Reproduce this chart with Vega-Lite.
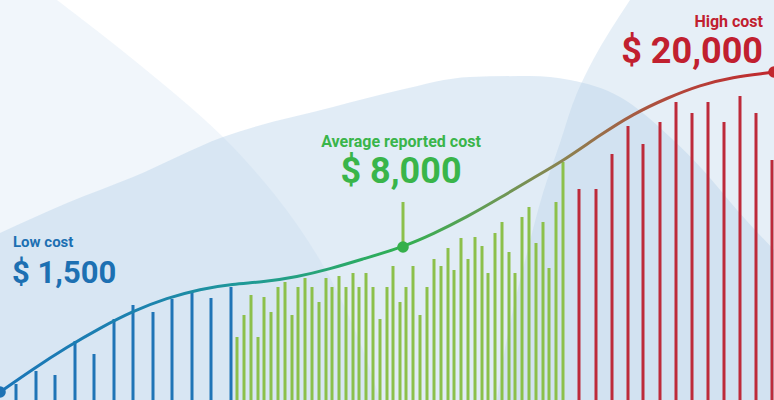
{
  "$schema": "https://vega.github.io/schema/vega-lite/v6.json",
  "width": 774,
  "height": 400,
  "autosize": {"type": "none"},
  "padding": 0,
  "background": "#ffffff",
  "config": {"view": {"stroke": null}},
  "datasets": {
    "hill": [
      {"x": 0, "v": 167}, {"x": 67, "v": 197}, {"x": 133, "v": 223}, {"x": 223, "v": 263},
      {"x": 333, "v": 293}, {"x": 400, "v": 310}, {"x": 470, "v": 323}, {"x": 530, "v": 324},
      {"x": 570, "v": 320}, {"x": 620, "v": 303}, {"x": 670, "v": 263}, {"x": 703, "v": 230},
      {"x": 737, "v": 190}, {"x": 774, "v": 150}
    ],
    "band": [
      {"x": 57, "v": 400}, {"x": 140, "v": 335}, {"x": 223, "v": 263}, {"x": 275, "v": 205},
      {"x": 320, "v": 140}, {"x": 355, "v": 70}, {"x": 380, "v": 0}
    ],
    "rightShape": [
      {"x": 630, "v": 400}, {"x": 593, "v": 340}, {"x": 577, "v": 307}, {"x": 560, "v": 257},
      {"x": 543, "v": 207}, {"x": 527, "v": 147}, {"x": 513, "v": 90}, {"x": 503, "v": 40},
      {"x": 497, "v": 0}
    ],
    "bars": [
      {"x": 16, "v": 16, "g": "low"}, {"x": 36, "v": 29, "g": "low"}, {"x": 55, "v": 25, "g": "low"},
      {"x": 75, "v": 59, "g": "low"}, {"x": 94, "v": 46, "g": "low"}, {"x": 114, "v": 81, "g": "low"},
      {"x": 133, "v": 95, "g": "low"}, {"x": 153, "v": 88, "g": "low"}, {"x": 172, "v": 101, "g": "low"},
      {"x": 192, "v": 109, "g": "low"}, {"x": 211, "v": 102, "g": "low"}, {"x": 231, "v": 113, "g": "low"},
      {"x": 237, "v": 63, "g": "avg"}, {"x": 244, "v": 85, "g": "avg"}, {"x": 251, "v": 105, "g": "avg"},
      {"x": 258, "v": 63, "g": "avg"}, {"x": 264, "v": 103, "g": "avg"}, {"x": 271, "v": 88, "g": "avg"},
      {"x": 278, "v": 113, "g": "avg"}, {"x": 285, "v": 118, "g": "avg"}, {"x": 292, "v": 85, "g": "avg"},
      {"x": 298, "v": 113, "g": "avg"}, {"x": 305, "v": 122, "g": "avg"}, {"x": 312, "v": 113, "g": "avg"},
      {"x": 319, "v": 98, "g": "avg"}, {"x": 326, "v": 122, "g": "avg"}, {"x": 332, "v": 113, "g": "avg"},
      {"x": 339, "v": 124, "g": "avg"}, {"x": 346, "v": 113, "g": "avg"}, {"x": 353, "v": 127, "g": "avg"},
      {"x": 359, "v": 113, "g": "avg"}, {"x": 366, "v": 127, "g": "avg"}, {"x": 373, "v": 113, "g": "avg"},
      {"x": 380, "v": 81, "g": "avg"}, {"x": 387, "v": 113, "g": "avg"}, {"x": 393, "v": 134, "g": "avg"},
      {"x": 400, "v": 98, "g": "avg"}, {"x": 406, "v": 113, "g": "avg"}, {"x": 413, "v": 134, "g": "avg"},
      {"x": 420, "v": 85, "g": "avg"}, {"x": 427, "v": 113, "g": "avg"}, {"x": 434, "v": 141, "g": "avg"},
      {"x": 441, "v": 134, "g": "avg"}, {"x": 448, "v": 152, "g": "avg"}, {"x": 454, "v": 130, "g": "avg"},
      {"x": 461, "v": 162, "g": "avg"}, {"x": 468, "v": 141, "g": "avg"}, {"x": 475, "v": 163, "g": "avg"},
      {"x": 482, "v": 154, "g": "avg"}, {"x": 488, "v": 127, "g": "avg"}, {"x": 495, "v": 167, "g": "avg"},
      {"x": 502, "v": 178, "g": "avg"}, {"x": 509, "v": 148, "g": "avg"}, {"x": 515, "v": 127, "g": "avg"},
      {"x": 522, "v": 183, "g": "avg"}, {"x": 529, "v": 193, "g": "avg"}, {"x": 536, "v": 157, "g": "avg"},
      {"x": 543, "v": 178, "g": "avg"}, {"x": 549, "v": 132, "g": "avg"}, {"x": 556, "v": 198, "g": "avg"},
      {"x": 563, "v": 238, "g": "avg"},
      {"x": 579, "v": 211, "g": "high"}, {"x": 596, "v": 211, "g": "high"}, {"x": 612, "v": 246, "g": "high"},
      {"x": 628, "v": 274, "g": "high"}, {"x": 643, "v": 256, "g": "high"}, {"x": 660, "v": 278, "g": "high"},
      {"x": 676, "v": 298, "g": "high"}, {"x": 692, "v": 287, "g": "high"}, {"x": 708, "v": 298, "g": "high"},
      {"x": 724, "v": 278, "g": "high"}, {"x": 740, "v": 304, "g": "high"}, {"x": 756, "v": 287, "g": "high"},
      {"x": 772, "v": 240, "g": "high"}
    ],
    "curve": [
      {"x": 0, "v": 8}, {"x": 33, "v": 31}, {"x": 67, "v": 53}, {"x": 100, "v": 72},
      {"x": 133, "v": 89}, {"x": 167, "v": 102}, {"x": 200, "v": 111}, {"x": 233, "v": 116},
      {"x": 263, "v": 118}, {"x": 297, "v": 123}, {"x": 330, "v": 131}, {"x": 363, "v": 141},
      {"x": 403, "v": 153}, {"x": 433, "v": 166}, {"x": 467, "v": 183}, {"x": 500, "v": 202},
      {"x": 533, "v": 222}, {"x": 563, "v": 239}, {"x": 600, "v": 265}, {"x": 633, "v": 286},
      {"x": 667, "v": 302}, {"x": 700, "v": 315}, {"x": 733, "v": 323}, {"x": 767, "v": 327},
      {"x": 774, "v": 328}
    ],
    "markers": [
      {"x": 0, "v": 8, "g": "low", "cost": 1500},
      {"x": 403, "v": 153, "g": "avg", "cost": 8000},
      {"x": 774, "v": 328, "g": "high", "cost": 20000}
    ]
  },
  "resolve": {"scale": {"color": "independent"}},
  "layer": [
    {
      "data": {"name": "band"},
      "mark": {"type": "area", "orient": "horizontal", "interpolate": "monotone", "color": "#b3cfe8", "opacity": 0.18},
      "encoding": {
        "y": {"field": "v", "type": "quantitative", "scale": {"domain": [0, 400], "nice": false, "zero": false}, "axis": null},
        "x": {"field": "x", "type": "quantitative", "scale": {"domain": [0, 774], "nice": false, "zero": false}, "axis": null},
        "x2": {"datum": 0}
      }
    },
    {
      "data": {"name": "hill"},
      "mark": {"type": "area", "interpolate": "monotone", "color": "#b3cfe8", "opacity": 0.39},
      "encoding": {
        "x": {"field": "x", "type": "quantitative"},
        "y": {"field": "v", "type": "quantitative"},
        "y2": {"datum": 0}
      }
    },
    {
      "data": {"name": "rightShape"},
      "mark": {"type": "area", "orient": "horizontal", "interpolate": "monotone", "color": "#b3cfe8", "opacity": 0.33},
      "encoding": {
        "y": {"field": "v", "type": "quantitative"},
        "x": {"field": "x", "type": "quantitative"},
        "x2": {"datum": 774}
      }
    },
    {
      "data": {"name": "bars"},
      "mark": {"type": "rule", "strokeWidth": 3},
      "encoding": {
        "x": {"field": "x", "type": "quantitative"},
        "y": {"field": "v", "type": "quantitative"},
        "y2": {"datum": 0},
        "color": {"field": "g", "type": "nominal", "scale": {"domain": ["low", "avg", "high"], "range": ["#1f74b6", "#8cc04b", "#bd2a3a"]}, "legend": null}
      }
    },
    {
      "data": {"name": "curve"},
      "mark": {
        "type": "line",
        "interpolate": "basis",
        "strokeWidth": 3,
        "stroke": {
          "gradient": "linear",
          "x1": 0, "y1": 0, "x2": 1, "y2": 0,
          "stops": [
            {"offset": 0, "color": "#1b76b8"},
            {"offset": 0.2, "color": "#1c84ad"},
            {"offset": 0.32, "color": "#1f9a96"},
            {"offset": 0.52, "color": "#30b052"},
            {"offset": 0.64, "color": "#6a9a55"},
            {"offset": 0.73, "color": "#8c8250"},
            {"offset": 0.86, "color": "#b14a3c"},
            {"offset": 1, "color": "#c1272d"}
          ]
        }
      },
      "encoding": {
        "x": {"field": "x", "type": "quantitative"},
        "y": {"field": "v", "type": "quantitative"}
      }
    },
    {
      "data": {"name": "markers"},
      "transform": [{"filter": "datum.g === 'avg'"}],
      "mark": {"type": "rule", "strokeWidth": 3, "color": "#8cc04b"},
      "encoding": {
        "x": {"field": "x", "type": "quantitative"},
        "y": {"field": "v", "type": "quantitative"},
        "y2": {"datum": 198}
      }
    },
    {
      "data": {"name": "markers"},
      "mark": {"type": "point", "filled": true, "opacity": 1, "size": 135},
      "encoding": {
        "x": {"field": "x", "type": "quantitative"},
        "y": {"field": "v", "type": "quantitative"},
        "color": {"field": "g", "type": "nominal", "scale": {"domain": ["low", "avg", "high"], "range": ["#1d72b4", "#35b04a", "#c1272d"]}, "legend": null}
      }
    },
    {
      "data": {"values": [{"x": 13, "v": 153, "t": "Low cost"}]},
      "mark": {"type": "text", "align": "left", "baseline": "alphabetic", "font": "Roboto", "fontWeight": "bold", "fontSize": 15, "color": "#1d70b2"},
      "encoding": {"x": {"field": "x", "type": "quantitative"}, "y": {"field": "v", "type": "quantitative"}, "text": {"field": "t"}}
    },
    {
      "data": {"values": [{"x": 12, "v": 117, "t": "$ 1,500"}]},
      "mark": {"type": "text", "align": "left", "baseline": "alphabetic", "font": "Roboto", "fontWeight": "bold", "fontSize": 31, "color": "#1d70b2"},
      "encoding": {"x": {"field": "x", "type": "quantitative"}, "y": {"field": "v", "type": "quantitative"}, "text": {"field": "t"}}
    },
    {
      "data": {"values": [{"x": 401, "v": 253, "t": "Average reported cost"}]},
      "mark": {"type": "text", "align": "center", "baseline": "alphabetic", "font": "Roboto", "fontWeight": "bold", "fontSize": 16, "color": "#39b54a"},
      "encoding": {"x": {"field": "x", "type": "quantitative"}, "y": {"field": "v", "type": "quantitative"}, "text": {"field": "t"}}
    },
    {
      "data": {"values": [{"x": 401, "v": 217, "t": "$ 8,000"}]},
      "mark": {"type": "text", "align": "center", "baseline": "alphabetic", "font": "Roboto", "fontWeight": "bold", "fontSize": 36, "color": "#39b54a"},
      "encoding": {"x": {"field": "x", "type": "quantitative"}, "y": {"field": "v", "type": "quantitative"}, "text": {"field": "t"}}
    },
    {
      "data": {"values": [{"x": 763, "v": 373, "t": "High cost"}]},
      "mark": {"type": "text", "align": "right", "baseline": "alphabetic", "font": "Roboto", "fontWeight": "bold", "fontSize": 16, "color": "#c1202f"},
      "encoding": {"x": {"field": "x", "type": "quantitative"}, "y": {"field": "v", "type": "quantitative"}, "text": {"field": "t"}}
    },
    {
      "data": {"values": [{"x": 763, "v": 337, "t": "$ 20,000"}]},
      "mark": {"type": "text", "align": "right", "baseline": "alphabetic", "font": "Roboto", "fontWeight": "bold", "fontSize": 36, "color": "#c1202f"},
      "encoding": {"x": {"field": "x", "type": "quantitative"}, "y": {"field": "v", "type": "quantitative"}, "text": {"field": "t"}}
    }
  ]
}
